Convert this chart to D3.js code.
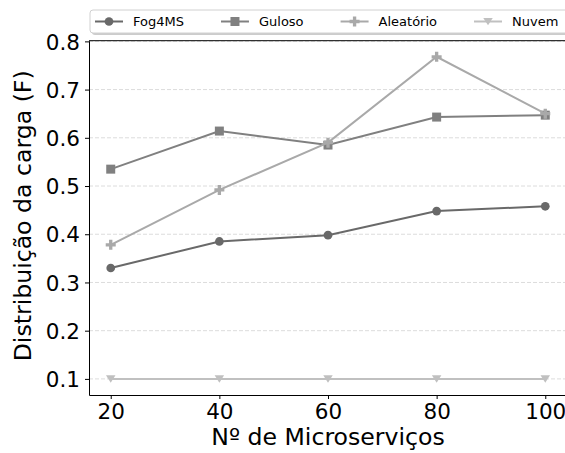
<!DOCTYPE html>
<html>
<head>
<meta charset="utf-8">
<script src="https://cdnjs.cloudflare.com/ajax/libs/d3/7.8.5/d3.min.js"></script>
<style>
  body { margin: 0; background: #fff; overflow: hidden; }
  svg { font-family: "DejaVu Sans", sans-serif; display: block; }
</style>
</head>
<body>
<div id="chart"></div>
<script>
// data
const microservicos = [20, 40, 60, 80, 100];
const fog4ms    = [0.330, 0.385, 0.398, 0.448, 0.458];
const guloso    = [0.535, 0.614, 0.585, 0.643, 0.647];
const aleatorio = [0.378, 0.492, 0.590, 0.768, 0.650];
const nuvem     = [0.100, 0.100, 0.100, 0.100, 0.100];
const yTicks = [0.1, 0.2, 0.3, 0.4, 0.5, 0.6, 0.7, 0.8];

const series = [
    {name: "Fog4MS", values: fog4ms, color: "#696969", symbol: d3.symbolCircle, size: 60},
    {name: "Guloso", values: guloso, color: "#808080", symbol: d3.symbolSquare, size: 81},
    {name: "Aleatório", values: aleatorio, color: "#a9a9a9", symbol: "plus", size: 10},
    {name: "Nuvem", values: nuvem, color: "#c0c0c0", symbol: "tri", size: 9.5}
];

const W = 565, H = 453;
const margin = {top: 40.7, right: -2, bottom: 58, left: 89};
const width = W - margin.left - margin.right;
const height = H - margin.top - margin.bottom;

const svg = d3.select("#chart").append("svg")
    .attr("width", W)
    .attr("height", H);

const g = svg.append("g")
    .attr("transform", `translate(${margin.left},${margin.top})`);

// matplotlib style 5% margins
const xPad = (100 - 20) * 0.05;
const x = d3.scaleLinear().domain([20 - xPad, 100 + xPad]).range([0, width]);
const allY = [].concat(fog4ms, guloso, aleatorio, nuvem);
const yMin = d3.min(allY), yMax = d3.max(allY);
const yPad = (yMax - yMin) * 0.05;
const y = d3.scaleLinear().domain([yMin - yPad, yMax + yPad]).range([height, 0]);

// grid
g.selectAll("line.grid")
    .data(yTicks)
    .enter()
    .append("line")
    .attr("class", "grid")
    .attr("x1", 0)
    .attr("x2", width)
    .attr("y1", d => y(d))
    .attr("y2", d => y(d))
    .attr("stroke", "#dcdcdc")
    .attr("stroke-width", 1)
    .attr("stroke-dasharray", "4,2");

// marker paths
function markerPath(s) {
    if (s.symbol === "plus") {
        // filled plus (matplotlib 'P')
        const a = s.size / 2, b = a / 3;
        return `M${-b},${-a}H${b}V${-b}H${a}V${b}H${b}V${a}H${-b}V${b}H${-a}V${-b}H${-b}Z`;
    }
    if (s.symbol === "tri") {
        const a = s.size / 2;
        return `M${-a},${-a * 0.75}L${a},${-a * 0.75}L0,${a * 0.8}Z`;
    }
    return d3.symbol().type(s.symbol).size(s.size)();
}

const line = d3.line()
    .x((d, i) => x(microservicos[i]))
    .y(d => y(d));

series.forEach(s => {
    g.append("path")
        .datum(s.values)
        .attr("fill", "none")
        .attr("stroke", s.color)
        .attr("stroke-width", 2)
        .attr("d", line);

    g.selectAll(null)
        .data(s.values)
        .enter()
        .append("path")
        .attr("transform", (d, i) => `translate(${x(microservicos[i])},${y(d)})`)
        .attr("d", markerPath(s))
        .attr("fill", s.color);
});

// axes
const xAxis = g.append("g")
    .attr("transform", `translate(0,${height})`)
    .call(d3.axisBottom(x).tickValues(microservicos).tickSize(4).tickSizeOuter(0).tickPadding(5));
const yAxis = g.append("g")
    .call(d3.axisLeft(y).tickValues(yTicks).tickFormat(d3.format(".1f")).tickSize(4).tickSizeOuter(0).tickPadding(5));

[xAxis, yAxis].forEach(ax => {
    ax.selectAll("text").attr("font-size", "21.5px").attr("fill", "#000")
        .attr("font-family", "DejaVu Sans");
    ax.select(".domain").attr("stroke", "#000").attr("stroke-width", 1);
    ax.selectAll(".tick line").attr("stroke", "#000");
});
yAxis.selectAll("text").attr("dy", "0.36em");

// top spine
g.append("line")
    .attr("x1", 0).attr("x2", width)
    .attr("y1", 0).attr("y2", 0)
    .attr("stroke", "#000");

// axis labels
svg.append("text")
    .attr("x", margin.left + width / 2)
    .attr("y", 445)
    .attr("text-anchor", "middle")
    .attr("font-size", "23.6px")
    .text("Nº de Microserviços");

svg.append("text")
    .attr("transform", `translate(31,${margin.top + height / 2 - 2}) rotate(-90)`)
    .attr("text-anchor", "middle")
    .attr("font-size", "23.6px")
    .text("Distribuição da carga (F)");

// legend
const legend = svg.append("g").attr("transform", "translate(90,10)");
legend.append("rect")
    .attr("x", 2).attr("y", 2)
    .attr("width", 520).attr("height", 23)
    .attr("rx", 3)
    .attr("fill", "#999").attr("opacity", 0.5);
legend.append("rect")
    .attr("x", 0).attr("y", 0)
    .attr("width", 520).attr("height", 23)
    .attr("rx", 3)
    .attr("fill", "#fff")
    .attr("stroke", "#d0d0d0");

let xPos = 5;
series.forEach(s => {
    const item = legend.append("g")
        .attr("transform", `translate(${xPos},11.5)`);
    item.append("line")
        .attr("x1", 0).attr("x2", 28)
        .attr("stroke", s.color)
        .attr("stroke-width", 2);
    item.append("path")
        .attr("transform", "translate(14,0)")
        .attr("d", markerPath(s))
        .attr("fill", s.color);
    const t = item.append("text")
        .attr("x", 38)
        .attr("dy", "0.35em")
        .attr("font-size", "13px")
        .text(s.name);
    xPos += 38 + t.node().getComputedTextLength() + 37;
});
</script>
</body>
</html>
